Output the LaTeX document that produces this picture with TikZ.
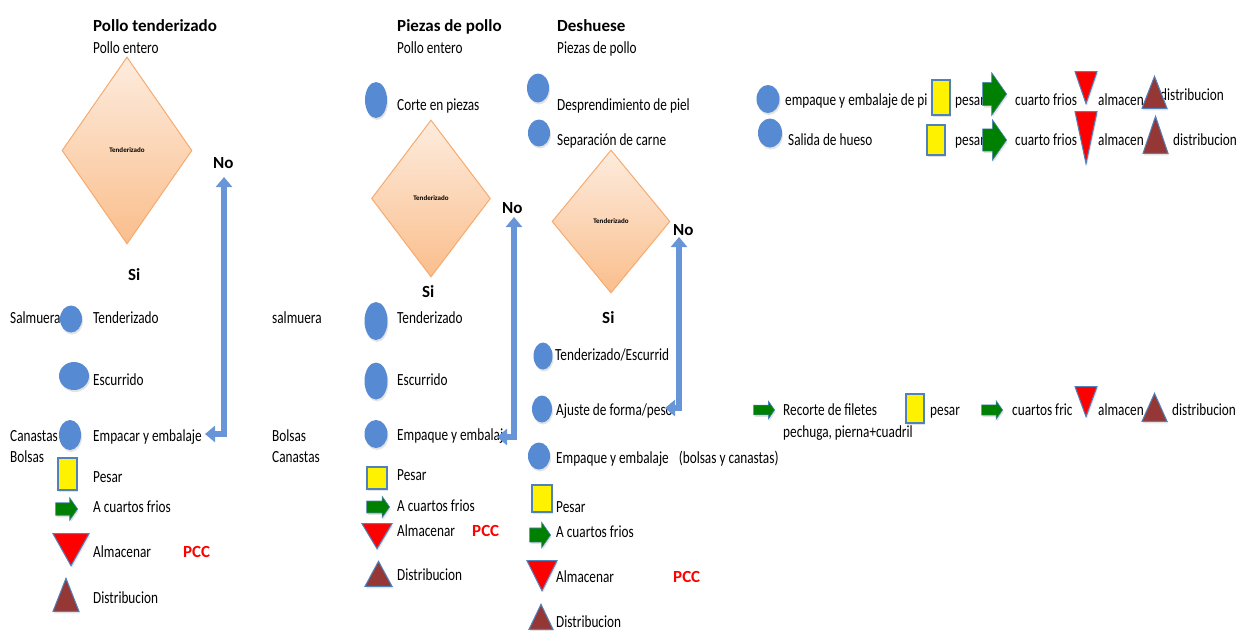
\documentclass[tikz,border=0pt]{standalone}
\usepackage{fontspec}
\setmainfont{Carlito}[FakeStretch=0.78]
\newfontfamily\headfont{Carlito}
\usetikzlibrary{shapes.geometric,shapes.arrows,arrows.meta,shadows}
\definecolor{circblue}{RGB}{86,138,210}
\definecolor{lineblue}{RGB}{79,129,189}
\definecolor{retblue}{RGB}{104,148,216}
\definecolor{verde}{RGB}{0,128,0}
\definecolor{cafe}{RGB}{149,55,53}
\definecolor{diaTop}{RGB}{253,236,222}
\definecolor{diaBot}{RGB}{250,190,140}
\definecolor{diaLine}{RGB}{247,170,110}

\tikzset{
  lbl/.style={anchor=base west,inner sep=0pt,font=\fontsize{17}{19}\selectfont},
  ttl/.style={lbl,font=\headfont\bfseries\fontsize{17}{19}\selectfont},
  pcc/.style={ttl,text=red},
  sombra/.style={drop shadow={opacity=0.22,shadow xshift=1pt,shadow yshift=-2pt}},
  proc/.style={ellipse,fill=circblue,inner sep=0pt,sombra},
  pesa/.style={rectangle,fill=yellow,draw=lineblue,line width=1.2pt,inner sep=0pt,sombra},
  frio/.style={single arrow,single arrow tip angle=110,fill=verde,draw=lineblue,line width=0.6pt,inner xsep=0pt,anchor=tip,sombra},
  almac/.style={isosceles triangle,isosceles triangle stretches,shape border rotate=270,fill=red,draw=lineblue,line width=1pt,inner sep=0pt,anchor=apex,sombra},
  distr/.style={isosceles triangle,isosceles triangle stretches,shape border rotate=90,fill=cafe,draw=lineblue,line width=1pt,inner sep=0pt,anchor=apex,sombra},
  decision/.style={diamond,top color=diaTop,bottom color=diaBot,draw=diaLine,line width=1pt,inner sep=0pt,font=\headfont\bfseries\fontsize{7}{8}\selectfont},
  retorno/.style={draw=retblue,line width=6.5pt,{Triangle[width=16pt,length=10pt]}-{Triangle[width=16pt,length=10pt]}}
}

\begin{document}
\begin{tikzpicture}[x=1pt,y=-1pt]
\useasboundingbox (0,0) rectangle (1241,630);

% titulos
\node[ttl] (t1) at (93,31) {Pollo tenderizado};
\node[ttl] (t2) at (397,31) {Piezas de pollo};
\node[ttl] (t3) at (557,31) {Deshuese};
\foreach \n/\x/\y in {no1/213/168, no2/502/213, no3/673/235}
  \node[ttl] (\n) at (\x,\y) {No};
\foreach \n/\x/\y in {si1/128/280, si2/422/297, si3/602/323}
  \node[ttl] (\n) at (\x,\y) {Si};
\foreach \n/\x/\y in {pcc1/183/557, pcc2/472/536, pcc3/673/582}
  \node[pcc] (\n) at (\x,\y) {PCC};

% decisiones
\node[decision,minimum width=130pt,minimum height=187pt] (dec1) at (127,150.5) {Tenderizado};
\node[decision,minimum width=119pt,minimum height=157pt] (dec2) at (431,198.5) {Tenderizado};
\node[decision,minimum width=118pt,minimum height=143pt] (dec3) at (611,221.5) {Tenderizado};

% textos
\foreach \n/\x/\y/\t in {e1/93/53/Pollo entero, sal1/10/323/Salmuera, a1/93/323/Tenderizado,
    b1/93/385/Escurrido, c1/93/441/Empacar y embalaje, can1/10/441/Canastas, bol1/10/462/Bolsas,
    p1/93/482/Pesar, f1/93/512/A cuartos frios, al1/93/557/Almacenar, d1/93/603/Distribucion}
  \node[lbl] (\n) at (\x,\y) {\t};
\foreach \n/\x/\y/\t in {sal2/272/323/salmuera, bol2/272/441/Bolsas, can2/272/462/Canastas,
    e2/397/53/Pollo entero, k2/397/110/Corte en piezas, a2/397/323/Tenderizado,
    b2/397/385/Escurrido, c2/397/440/Empaque y embalaj, p2/397/480/Pesar,
    f2/397/511/A cuartos frios, al2/397/536/Almacenar, d2/397/580/Distribucion}
  \node[lbl] (\n) at (\x,\y) {\t};
\foreach \n/\x/\y/\t in {e3/557/53/Piezas de pollo, k3/557/110/Desprendimiento de piel,
    s3/557/145/Separación de carne, a3/555/360/{Tenderizado/Escurrid},
    b3/556/415/{Ajuste de forma/peso}, p3/556/512/Pesar, f3/556/537/A cuartos frios,
    al3/556/582/Almacenar, d3/556/627/Distribucion}
  \node[lbl] (\n) at (\x,\y) {\t};
\node[lbl] (c3) at (556,463) {Empaque y embalaje\hspace{10pt}(bolsas y canastas)};
\foreach \n/\x/\y/\t in {r1a/785/105/empaque y embalaje de pi, r1b/955/105/pesar,
    r1c/1015/105/cuarto frios, r1d/1098/105/almacen, r1e/1160/100/distribucion,
    r2a/788/145/Salida de hueso, r2b/955/145/pesar, r2c/1015/145/cuarto frios,
    r2d/1098/145/almacen, r2e/1173/145/distribucion,
    r3a/783/415/Recorte de filetes, r3f/783/437/{pechuga, pierna+cuadril},
    r3b/930/415/pesar, r3c/1012/415/cuartos fric, r3d/1098/415/almacen, r3e/1172/415/distribucion}
  \node[lbl] (\n) at (\x,\y) {\t};

% simbolos
\foreach \n/\x/\y/\w/\h in {ca1/71/319/22/27, cb1/74/376/30/28, cc1/70/435/22/30,
    ck2/376/100/22/36, ca2/376/321/23/38, cb2/376/381/23/37, cc2/376/434/23/28,
    ck3/538/88/22/29, cs3/539/133/22/27, ca3/543/356/19/27, cb3/542/409/20/27, cc3/539/456/22/27,
    cr1/768/99/23/28, cr2/770/133/24/29}
  \node[proc,minimum width=\w pt,minimum height=\h pt] (\n) at (\x,\y) {};
\foreach \n/\x/\y/\w/\h in {w1/67.5/474/19/32, w2/377/478/20/22, w3/542/498.5/20/27,
    wr1/941/97.5/18/35, wr2/936/140/18/30, wr3/915/408.5/18/29}
  \node[pesa,minimum width=\w pt,minimum height=\h pt] (\n) at (\x,\y) {};
% flechas: punta en (x,y)
\foreach \n/\x/\y/\l/\w in {g1/78/509/22/22, g2/390/507/23/21, g3/551/535/21/25,
    gr1/1007/94/24/42, gr2/1007/140/24/40, gr3/775/410/21/17, gr4/1003/410/21/18}
  \node[frio,minimum height=\l pt,minimum width=\w pt,inner ysep=\w*0.27pt,
    single arrow head extend=\w*0.23pt] (\n) at (\x,\y) {};
% triangulos: vertice en (x,y)
\foreach \n/\x/\y/\w/\h in {v1/71/567/36/32, v2/377/550/30/25, v3/542/592/30/30,
    vr1/1086/105/22/32, vr2/1086/165/22/52, vr3/1086/418/22/30}
  \node[almac,minimum width=\w pt,minimum height=\h pt] (\n) at (\x,\y) {};
\foreach \n/\x/\y/\w/\h in {u1/66/577/26/33, u2/378.5/560/27/25, u3/541/603/24/25,
    ur1/1154.5/75/25/32, ur2/1155.5/115/25/37, ur3/1154.5/392/25/28}
  \node[distr,minimum width=\w pt,minimum height=\h pt] (\n) at (\x,\y) {};

% retornos
\coordinate (up1) at (224,177);
\coordinate (ret1) at (205,434);
\coordinate (up2) at (514,217);
\coordinate (ret2) at (497,437);
\coordinate (up3) at (679,237);
\coordinate (ret3) at (665,408);
\draw[retorno] (ret1) -| (up1);
\draw[retorno] (ret2) -| (up2);
\draw[retorno] (ret3) -| (up3);
\end{tikzpicture}
\end{document}
